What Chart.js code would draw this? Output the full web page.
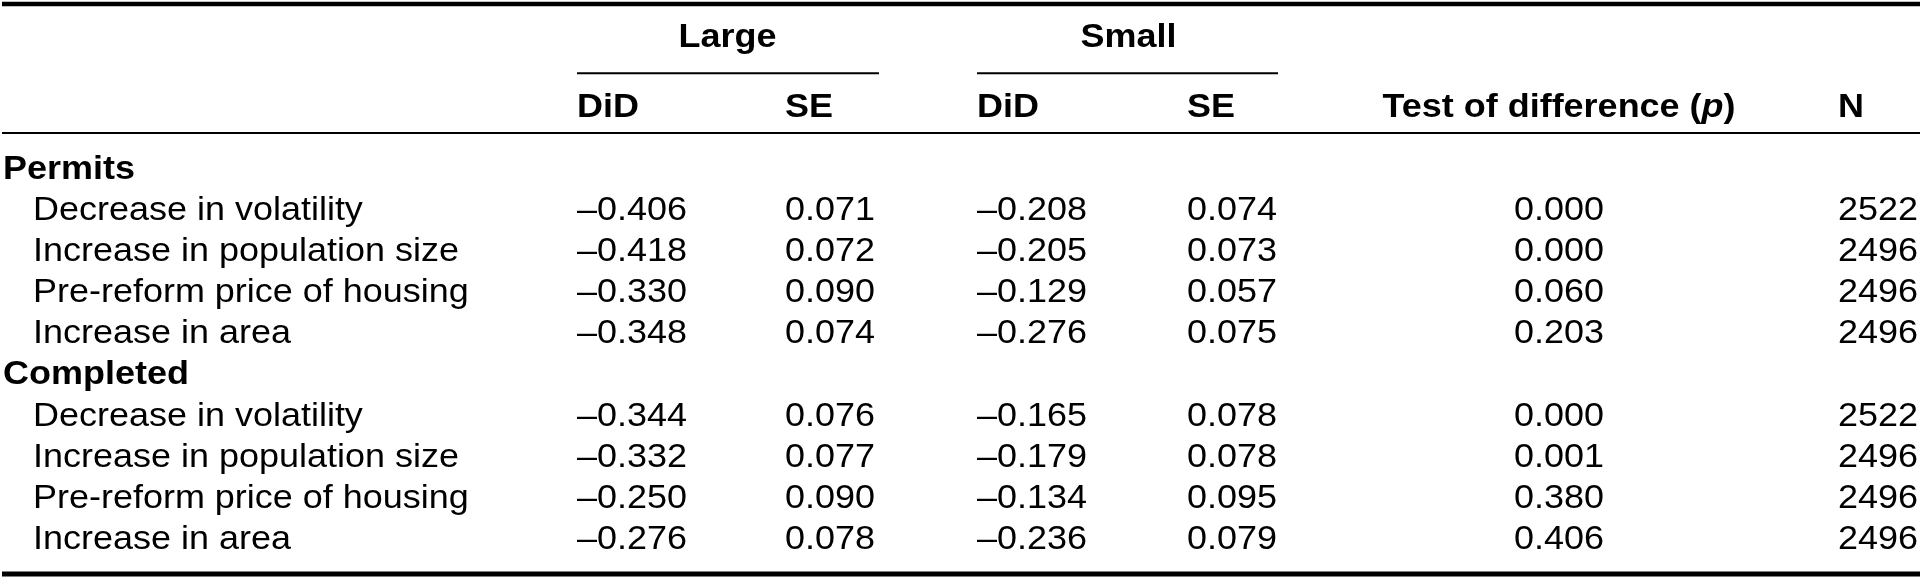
<!DOCTYPE html>
<html>
<head>
<meta charset="utf-8">
<script src="https://cdn.jsdelivr.net/npm/chart.js@4.4.1/dist/chart.umd.min.js"></script>
<style>
  html, body { margin: 0; padding: 0; background: #fff; }
  canvas { display: block; }
</style>
</head>
<body>
<canvas id="tableChart" width="1923" height="581"></canvas>
<script>
// Table contents
const groups = ['Permits', 'Completed'];
const rowLabels = ['Decrease in volatility', 'Increase in population size', 'Pre-reform price of housing', 'Increase in area'];
const spanHeaders = ['Large', 'Small'];
const columnHeaders = ['DiD', 'SE', 'DiD', 'SE', 'Test of difference (p)', 'N'];

// first four = Permits, last four = Completed
const largeDiD = [-0.406, -0.418, -0.330, -0.348, -0.344, -0.332, -0.250, -0.276];
const largeSE  = [0.071, 0.072, 0.090, 0.074, 0.076, 0.077, 0.090, 0.078];
const smallDiD = [-0.208, -0.205, -0.129, -0.276, -0.165, -0.179, -0.134, -0.236];
const smallSE  = [0.074, 0.073, 0.057, 0.075, 0.078, 0.078, 0.095, 0.079];
const pValues  = [0.000, 0.000, 0.060, 0.203, 0.000, 0.001, 0.380, 0.406];
const nObs     = [2522, 2496, 2496, 2496, 2522, 2496, 2496, 2496];

// layout (x in pixels of the x scale, y in row units)
const colX = [577, 785, 977, 1187, 1559, 1838];
const colAlign = ['left', 'left', 'left', 'left', 'center', 'left'];
const labelX = 33, groupX = 3;
const FONT = '"Liberation Sans", Arial, Helvetica, sans-serif';
const SIZE = 33, STRETCH = 1.09;

const fmt = v => (v < 0 ? '\u2013' : '') + Math.abs(v).toFixed(3);
const rowOf = i => (i < 4 ? i + 1 : i + 2);

function cellData(values, col, f) {
    return values.map((v, i) => ({ x: colX[col], y: rowOf(i), text: f(v), align: colAlign[col] }));
}

const labelPoints = rowLabels.concat(rowLabels).map((t, i) => ({ x: labelX, y: rowOf(i), text: t, align: 'left' }));
const groupPoints = groups.map((t, g) => ({ x: groupX, y: g * 5, text: t, align: 'left', bold: true }));
const headerPoints = columnHeaders.map((t, c) => ({ x: colX[c], y: -1.51, text: t, align: colAlign[c], bold: true }));
const spanPoints = spanHeaders.map((t, s) => ({ x: (colX[s * 2] + colX[s * 2 + 1] + 93) / 2, y: -3.21, text: t, align: 'center', bold: true }));

const datasets = [
    groupPoints, labelPoints, headerPoints, spanPoints,
    cellData(largeDiD, 0, fmt),
    cellData(largeSE, 1, fmt),
    cellData(smallDiD, 2, fmt),
    cellData(smallSE, 3, fmt),
    cellData(pValues, 4, fmt),
    cellData(nObs, 5, v => String(v))
].map(d => ({ data: d, pointRadius: 0, pointHoverRadius: 0, showLine: false }));

function drawText(ctx, p, x, y) {
    ctx.save();
    ctx.translate(x, y);
    ctx.scale(STRETCH, 1);
    ctx.fillStyle = '#000';
    ctx.textBaseline = 'alphabetic';
    const bold = p.bold ? 'bold ' : '';
    if (p.text === 'Test of difference (p)') {
        // italic p inside the header
        const parts = [['Test of difference (', bold], ['p', 'italic ' + bold], [')', bold]];
        let total = 0;
        parts.forEach(pt => { ctx.font = pt[1] + SIZE + 'px ' + FONT; total += ctx.measureText(pt[0]).width; });
        let cx = -total / 2;
        ctx.textAlign = 'left';
        parts.forEach(pt => {
            ctx.font = pt[1] + SIZE + 'px ' + FONT;
            ctx.fillText(pt[0], cx, 0);
            cx += ctx.measureText(pt[0]).width;
        });
    } else {
        ctx.font = bold + SIZE + 'px ' + FONT;
        ctx.textAlign = p.align;
        ctx.fillText(p.text, 0, 0);
    }
    ctx.restore();
}

const tablePlugin = {
    id: 'tablePlugin',
    afterDatasetsDraw(chart) {
        const ctx = chart.ctx;
        const xs = chart.scales.x, ys = chart.scales.y;
        const rule = (x0, x1, yv, w) => {
            ctx.save();
            ctx.strokeStyle = '#000';
            ctx.lineWidth = w;
            ctx.beginPath();
            ctx.moveTo(xs.getPixelForValue(x0), ys.getPixelForValue(yv));
            ctx.lineTo(xs.getPixelForValue(x1), ys.getPixelForValue(yv));
            ctx.stroke();
            ctx.restore();
        };
        rule(2, 1920, -4.26, 4.5);
        rule(577, 879, -2.57, 2);
        rule(977, 1278, -2.57, 2);
        rule(2, 1920, -1.12, 2);
        rule(2, 1920, 9.61, 5);

        chart.data.datasets.forEach((ds, di) => {
            const meta = chart.getDatasetMeta(di);
            meta.data.forEach((el, i) => drawText(ctx, ds.data[i], el.x, el.y));
        });
    }
};

const chart = new Chart(document.getElementById('tableChart').getContext('2d'), {
    type: 'scatter',
    data: { datasets: datasets },
    options: {
        responsive: false,
        animation: false,
        devicePixelRatio: 1,
        layout: { padding: 0 },
        plugins: { legend: { display: false }, tooltip: { enabled: false } },
        scales: {
            x: { type: 'linear', min: 0, max: 1923, display: false },
            y: { type: 'linear', reverse: true, min: -4.355, max: 9.781, display: false }
        }
    },
    plugins: [tablePlugin]
});
</script>
</body>
</html>
